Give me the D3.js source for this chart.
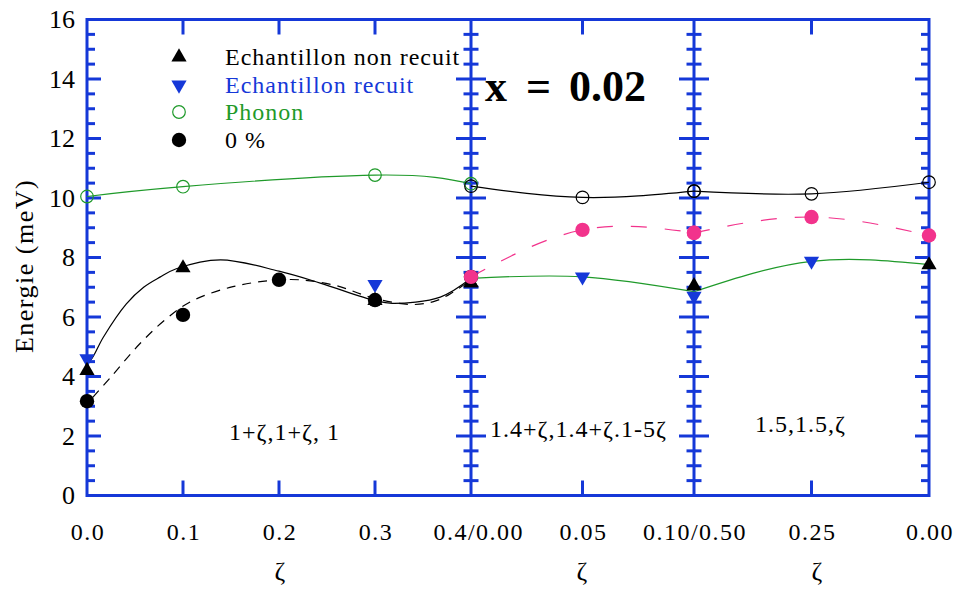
<!DOCTYPE html>
<html><head><meta charset="utf-8">
<script src="https://cdn.jsdelivr.net/npm/d3@7"></script>
<style>
body{margin:0;background:#fff}
svg{display:block}
</style>
</head><body>
<svg id="chart" width="959" height="591" font-family="'Liberation Serif', serif"></svg>
<script>
// ---------------- DATA ----------------
const yTickLabels = ["0","2","4","6","8","10","12","14","16"];
const yTickValues = [0,2,4,6,8,10,12,14,16];
const xTickLabels = ["0.0","0.1","0.2","0.3","0.4/0.00","0.05","0.10/0.50","0.25","0.00"];
const xTickPanel  = [0,0,0,0,0,1,1,2,2];
const xTickZeta   = [0,0.1,0.2,0.3,0.4,0.05,0.10,0.25,0];
const panelDomains = [[0,0.4],[0,0.10],[0.5,0]];
const panelMidTicks = [[0.1,0.2,0.3],[0.05],[0.25]];
const panelLabels = ["1+ζ,1+ζ, 1","1.4+ζ,1.4+ζ.1-5ζ","1.5,1.5,ζ"];
const legendLabels = ["Echantillon non recuit","Echantillon recuit","Phonon","0 %"];

// panel 1 : (1+ζ, 1+ζ, 1)
const nonRecuitA = [[0,4.2],[0.1,7.65],[0.3,6.55],[0.4,7.15]];
const recuitA    = [[0,4.6],[0.3,7.1]];
const phononA    = [[0,10.05],[0.1,10.38],[0.3,10.77],[0.4,10.48]];
const zeroPctA   = [[0,3.17],[0.1,6.07],[0.2,7.25],[0.3,6.57],[0.4,7.35]];
// fitted curves (panel 1)
const nonRecuitFitA = [[0,4.45],[0.005,4.6],[0.017,5.32],[0.041,6.44],[0.059,7.0],[0.076,7.34],[0.093,7.62],[0.139,7.92],[0.2,7.54],[0.243,7.14],[0.3,6.55],[0.318,6.46],[0.368,6.67],[0.4,7.3]];
const zeroPctFitA   = [[0.006,3.3],[0.024,3.95],[0.055,5.1],[0.083,5.95],[0.11,6.55],[0.152,7.02],[0.19,7.22],[0.222,7.25],[0.26,7.05],[0.3,6.62],[0.34,6.42],[0.364,6.55],[0.381,6.83],[0.4,7.25]];

// panel 2 : (1.4+ζ, 1.4+ζ, 1-5ζ)
const nonRecuitB = [[0,7.15],[0.10,7.05]];
const recuitB    = [[0.05,7.35],[0.10,6.7]];
const openB      = [[0,10.4],[0.05,10.02],[0.10,10.23]];
const pinkB      = [[0,7.35],[0.05,8.93],[0.10,8.83]];
const greenFitB  = [[0,7.3],[0.05,7.35],[0.10,6.85]];

// panel 3 : (1.5, 1.5, ζ)
const nonRecuitC = [[0,7.75]];
const recuitC    = [[0.25,7.88]];
const openC      = [[0.5,10.23],[0.25,10.14],[0,10.53]];
const pinkC      = [[0.5,8.83],[0.25,9.36],[0,8.74]];
const greenFitC  = [[0.5,6.85],[0.25,7.87],[0,7.76]];

// ---------------- STYLE / LAYOUT ----------------
const BLUE="#1538d8", GREEN="#1f9a2a", PINK="#f2338c", BLACK="#000";
const panelRanges = [[87,471],[471,694],[694,929]];
const TOP=19.5, BOTTOM=495.5;

const svg = d3.select("#chart");
const y = d3.scaleLinear().domain([0,16]).range([BOTTOM,TOP]);
const xs = panelDomains.map((d,i)=>d3.scaleLinear().domain(d).range(panelRanges[i]));

// ---------------- AXES ----------------
const ax = svg.append("g").attr("stroke",BLUE).attr("stroke-width",3).attr("fill","none");
ax.append("line").attr("x1",panelRanges[0][0]).attr("x2",panelRanges[2][1]).attr("y1",y(16)).attr("y2",y(16));
ax.append("line").attr("x1",panelRanges[0][0]).attr("x2",panelRanges[2][1]).attr("y1",y(0)).attr("y2",y(0));
const yMinor = y.ticks(32);
const vx = [panelRanges[0][0], panelRanges[1][0], panelRanges[2][0], panelRanges[2][1]];
const vType = ["left","both","both","right"];
vx.forEach((xv,i)=>{
  ax.append("line").attr("x1",xv).attr("x2",xv).attr("y1",y(16)-1.5).attr("y2",y(0)+1.5);
  yMinor.forEach(t=>{
    const major = yTickValues.includes(t);
    const L = major ? (vType[i]==="both"?15:14) : (vType[i]==="both"?7.5:8);
    let x1, x2;
    if (vType[i]==="left"){x1=xv; x2=xv+L;}
    else if (vType[i]==="right"){x1=xv-L; x2=xv;}
    else {x1=xv-L; x2=xv+L;}
    ax.append("line").attr("x1",x1).attr("x2",x2).attr("y1",y(t)).attr("y2",y(t));
  });
});
panelMidTicks.forEach((ts,i)=>{
  ts.forEach(t=>{
    const xv = xs[i](t);
    ax.append("line").attr("x1",xv).attr("x2",xv).attr("y1",y(0)).attr("y2",y(0)-15);
    ax.append("line").attr("x1",xv).attr("x2",xv).attr("y1",y(16)).attr("y2",y(16)+15);
  });
});

// y tick labels
svg.append("g").selectAll("text").data(yTickValues).join("text")
  .attr("x",75).attr("y",d=>y(d)+8.5).attr("text-anchor","end")
  .attr("font-size",26).text((d,i)=>yTickLabels[i]);

// x tick labels
const xl = svg.append("g").attr("font-size",24).attr("letter-spacing","1.5px");
xTickLabels.forEach((lab,i)=>{
  const xv = xs[xTickPanel[i]](xTickZeta[i]);
  if (lab.includes("/")){
    const [a,b] = lab.split("/");
    xl.append("text").attr("x",xv-3).attr("y",540).attr("text-anchor","end").text(a);
    xl.append("text").attr("x",xv+1).attr("y",540).attr("text-anchor","middle").text("/");
    xl.append("text").attr("x",xv+5).attr("y",540).attr("text-anchor","start").text(b);
  } else {
    xl.append("text").attr("x",xv+1).attr("y",540).attr("text-anchor","middle").text(lab);
  }
});
// ζ axis titles
[280,582,817].forEach(cx=>{
  svg.append("text").attr("x",cx).attr("y",580).attr("text-anchor","middle").attr("font-size",26).text("ζ");
});
// y title
svg.append("text").attr("transform","translate(33,266) rotate(-90)").attr("text-anchor","middle")
  .attr("font-size",26).attr("letter-spacing","1.5px").text("Energie (meV)");

// panel labels
const plPos = [[229,440],[490,437],[755,432]];
panelLabels.forEach((t,i)=>{
  svg.append("text").attr("x",plPos[i][0]).attr("y",plPos[i][1]).attr("font-size",24).attr("letter-spacing","1px").text(t);
});

// x = 0.02
const tx = svg.append("g").attr("font-size",44).attr("font-weight","bold");
tx.append("text").attr("x",485).attr("y",101).text("x");
tx.append("text").attr("x",526).attr("y",101).text("=");
tx.append("text").attr("x",569).attr("y",101).text("0.02");

// ---------------- LINES ----------------
const lineFor = (sx, curve) => d3.line().x(d=>sx(d[0])).y(d=>y(d[1])).curve(curve);
const lg = svg.append("g").attr("fill","none").attr("stroke-width",1.2);
lg.append("path").attr("d",lineFor(xs[0],d3.curveNatural)(phononA)).attr("stroke",GREEN);
lg.append("path").attr("d",lineFor(xs[0],d3.curveCatmullRom.alpha(0.5))(nonRecuitFitA)).attr("stroke",BLACK);
lg.append("path").attr("d",lineFor(xs[0],d3.curveCatmullRom.alpha(0.5))(zeroPctFitA)).attr("stroke",BLACK).attr("stroke-dasharray","9,7");
lg.append("path").attr("d",lineFor(xs[1],d3.curveNatural)(openB)).attr("stroke",BLACK);
lg.append("path").attr("d",lineFor(xs[1],d3.curveNatural)(pinkB)).attr("stroke",PINK).attr("stroke-dasharray","16,18");
lg.append("path").attr("d",lineFor(xs[1],d3.curveNatural)(greenFitB)).attr("stroke",GREEN);
lg.append("path").attr("d",lineFor(xs[2],d3.curveNatural)(openC)).attr("stroke",BLACK);
lg.append("path").attr("d",lineFor(xs[2],d3.curveNatural)(pinkC)).attr("stroke",PINK).attr("stroke-dasharray","16,18");
lg.append("path").attr("d",lineFor(xs[2],d3.curveNatural)(greenFitC)).attr("stroke",GREEN);

// ---------------- MARKERS ----------------
const tri = d3.symbol().type(d3.symbolTriangle).size(100)();
const mg = svg.append("g");
function triUp(sx,data,color){
  mg.append("g").selectAll("path").data(data).join("path").attr("d",tri).attr("fill",color)
    .attr("transform",d=>`translate(${sx(d[0])},${y(d[1])})`);
}
function triDown(sx,data,color){
  mg.append("g").selectAll("path").data(data).join("path").attr("d",tri).attr("fill",color)
    .attr("transform",d=>`translate(${sx(d[0])},${y(d[1])}) rotate(180)`);
}
function openCirc(sx,data,color){
  mg.append("g").selectAll("circle").data(data).join("circle").attr("r",6.3).attr("fill","none")
    .attr("stroke",color).attr("stroke-width",1.2).attr("cx",d=>sx(d[0])).attr("cy",d=>y(d[1]));
}
function fillCirc(sx,data,color){
  mg.append("g").selectAll("circle").data(data).join("circle").attr("r",7.2).attr("fill",color)
    .attr("cx",d=>sx(d[0])).attr("cy",d=>y(d[1]));
}
triDown(xs[0],recuitA,BLUE);
triUp(xs[0],nonRecuitA,BLACK);
fillCirc(xs[0],zeroPctA,BLACK);
openCirc(xs[0],phononA,GREEN);
triUp(xs[1],nonRecuitB,BLACK);
triDown(xs[1],recuitB,BLUE);
openCirc(xs[1],openB,BLACK);
fillCirc(xs[1],pinkB,PINK);
triUp(xs[2],nonRecuitC,BLACK);
triDown(xs[2],recuitC,BLUE);
openCirc(xs[2],openC,BLACK);
fillCirc(xs[2],pinkC,PINK);

// ---------------- LEGEND ----------------
const legY = [57,85,112,140];
const legColors = [BLACK,BLUE,GREEN,BLACK];
const leg = svg.append("g");
leg.append("path").attr("d",tri).attr("fill",BLACK).attr("transform",`translate(179,${legY[0]})`);
leg.append("path").attr("d",tri).attr("fill",BLUE).attr("transform",`translate(179,${legY[1]}) rotate(180)`);
leg.append("circle").attr("cx",179).attr("cy",legY[2]).attr("r",6.3).attr("fill","none").attr("stroke",GREEN).attr("stroke-width",1.2);
leg.append("circle").attr("cx",179).attr("cy",legY[3]).attr("r",7.2).attr("fill",BLACK);
legendLabels.forEach((t,i)=>{
  leg.append("text").attr("x",225).attr("y",legY[i]+8).attr("font-size",24).attr("letter-spacing","1px")
    .attr("fill",legColors[i]).text(t);
});
</script>
</body></html>
